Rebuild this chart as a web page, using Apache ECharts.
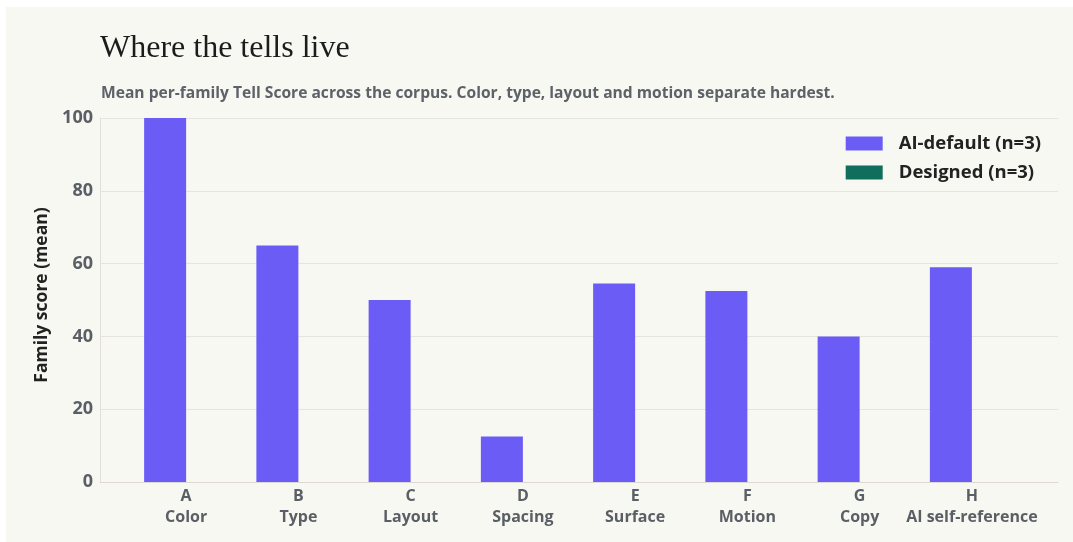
<!DOCTYPE html>
<html><head><meta charset="utf-8">
<script src="https://cdn.jsdelivr.net/npm/echarts@6/dist/echarts.min.js"></script>
<style>
html,body{margin:0;padding:0;background:#ffffff;}
#panel{position:absolute;left:6px;top:7px;right:0;bottom:0;background:#f8f8f3;}
#c{position:absolute;left:0;top:0;width:1073px;height:542px;}
</style></head>
<body><div id="panel"></div><div id="c"></div>
<script>
const codes = ['A','B','C','D','E','F','G','H'];
const families = ['Color','Type','Layout','Spacing','Surface','Motion','Copy','AI self-reference'];
const aiDefault = [100, 65, 50, 12.5, 54.5, 52.5, 40, 59];
const designed = [0, 0, 0, 0, 0, 0, 0, 0];
const yTicks = [0, 20, 40, 60, 80, 100];

const SANS = "'Open Sans', sans-serif";
const categories = codes.map((c, i) => c + '\n' + families[i]);
const chart = echarts.init(document.getElementById('c'), null, {renderer: 'canvas'});
const gridTop = 118, gridBottom = 60;
chart.setOption({
  backgroundColor: 'transparent',
  animation: false,
  title: [{
    text: 'Where the tells live',
    left: 100, top: 33, padding: 0,
    textStyle: {fontFamily: 'Liberation Serif', fontWeight: 'normal', fontSize: 32, color: '#1c1c1c'}
  }, {
    text: 'Mean per-family Tell Score across the corpus. Color, type, layout and motion separate hardest.',
    left: 101, top: 86, padding: 0,
    textStyle: {fontFamily: SANS, fontWeight: 'bold', fontSize: 15.6, color: '#5d6168'}
  }],
  legend: {
    orient: 'vertical', right: 27, top: 129,
    itemWidth: 37, itemHeight: 14, itemGap: 10,
    icon: 'rect',
    textStyle: {fontFamily: SANS, fontWeight: 'bold', fontSize: 18.5, color: '#222', padding: [0,0,0,11]},
    data: ['AI-default (n=3)', 'Designed (n=3)']
  },
  grid: [
    {left: 100, right: 15, top: gridTop, bottom: gridBottom},
    {left: 130, right: 45, top: gridTop, bottom: gridBottom}
  ],
  xAxis: [{
    type: 'category', gridIndex: 0, data: categories,
    axisLine: {show: true, lineStyle: {color: '#ddd8d3', width: 1}},
    axisTick: {show: false}, axisLabel: {show: false}, splitLine: {show: false}
  }, {
    type: 'category', gridIndex: 1, data: categories,
    axisLine: {show: false}, axisTick: {show: false},
    axisLabel: {interval: 0, fontFamily: SANS, fontWeight: 'bold', fontSize: 16, color: '#5a5e65', lineHeight: 21, margin: 4}
  }],
  yAxis: [{
    type: 'value', gridIndex: 0, min: yTicks[0], max: yTicks[yTicks.length-1], interval: 20,
    name: 'Family score (mean)', nameLocation: 'middle', nameGap: 48,
    nameTextStyle: {fontFamily: SANS, fontWeight: 'bold', fontSize: 17.5, color: '#222', padding: [0,0,0,10]},
    axisLine: {show: true, lineStyle: {color: '#e2ded9'}},
    axisTick: {show: false},
    axisLabel: {fontFamily: SANS, fontWeight: 'bold', fontSize: 18, color: '#5a5e65', margin: 7},
    splitLine: {lineStyle: {color: '#e6e4df', width: 1}}
  }, {
    type: 'value', gridIndex: 1, min: yTicks[0], max: yTicks[yTicks.length-1], interval: 20,
    show: false, splitLine: {show: false}
  }],
  series: [{
    name: 'AI-default (n=3)', type: 'bar', xAxisIndex: 1, yAxisIndex: 1,
    data: aiDefault, barWidth: 42, barGap: '0%',
    itemStyle: {color: '#6b5cf6'}
  }, {
    name: 'Designed (n=3)', type: 'bar', xAxisIndex: 1, yAxisIndex: 1,
    data: designed, barWidth: 42, barGap: '0%',
    itemStyle: {color: '#0f6e5c'}
  }]
});
</script></body></html>
